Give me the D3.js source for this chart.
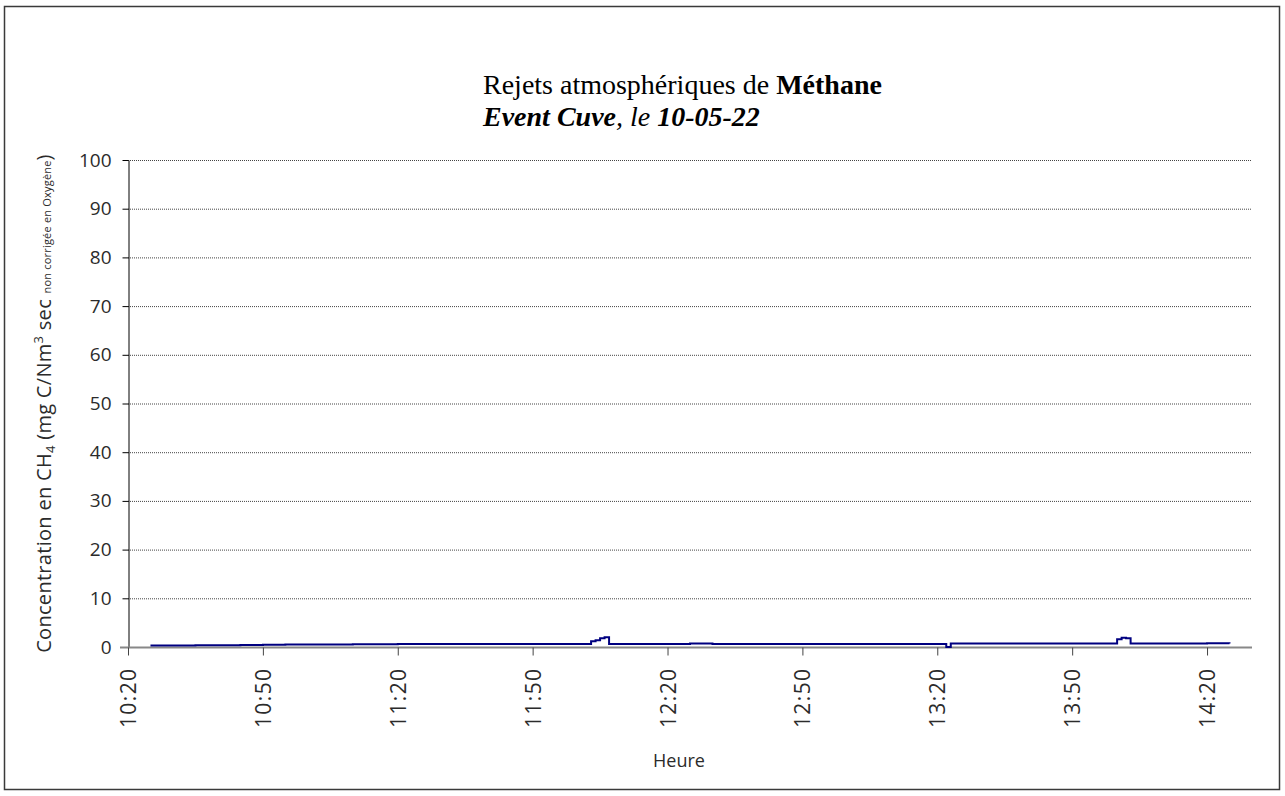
<!DOCTYPE html>
<html>
<head>
<meta charset="utf-8">
<script src="https://cdn.jsdelivr.net/npm/d3@7"></script>
<style>
  body { margin: 0; background: #fff; }
  svg { display: block; }
</style>
</head>
<body>
<svg id="canvas"></svg>
<script>
const width = 1285;
const height = 796;

// measured concentration (mg C/Nm3), step readings
const times = ["10:25","10:30","10:35","10:40","10:45","10:50","10:55","11:00","11:05","11:10",
  "11:15","11:20","11:25","11:30","11:35","11:40","11:45","11:50","11:55","12:00",
  "12:03","12:04","12:05","12:06","12:07","12:15","12:25","12:30","12:40","12:50",
  "13:00","13:10","13:20","13:22","13:23","13:30","13:40","13:50","13:55","14:00",
  "14:01","14:02","14:03","14:10","14:20","14:25"];
const values = [0.3,0.3,0.35,0.35,0.4,0.45,0.5,0.5,0.5,0.55,
  0.55,0.6,0.6,0.6,0.6,0.6,0.6,0.6,0.6,0.6,
  1.2,1.4,1.8,2.0,0.6,0.6,0.7,0.6,0.6,0.6,
  0.6,0.6,0.6,0.0,0.7,0.7,0.7,0.7,0.7,1.6,
  1.9,1.8,0.7,0.7,0.75,0.7];

const xTickLabels = ["10:20","10:50","11:20","11:50","12:20","12:50","13:20","13:50","14:20"];
const yTicks = [0,10,20,30,40,50,60,70,80,90,100];

const parse = d3.timeParse("%H:%M");
const data = times.map((t, i) => ({ t: parse(t), v: values[i] }));

const plot = { left: 128, right: 1252, top: 160, bottom: 647 };
const sans = "'Open Sans', sans-serif";
const ink = "#2b2b2b";

const svg = d3.select("#canvas").attr("width", width).attr("height", height);

// chart frame
svg.append("rect")
  .attr("x", 4.5).attr("y", 6.5)
  .attr("width", 1275).attr("height", 783)
  .attr("fill", "none").attr("stroke", "#3a3a3a").attr("stroke-width", 1.5);

const xScale = d3.scaleTime()
  .domain([parse("10:20"), parse("14:30")])
  .range([plot.left, plot.right]);

const yScale = d3.scaleLinear()
  .domain([0, 100])
  .range([plot.bottom, plot.top]);

// gridlines
svg.append("g")
  .selectAll("line")
  .data(yTicks.filter(d => d > 0))
  .enter()
  .append("line")
  .attr("x1", plot.left)
  .attr("x2", plot.right)
  .attr("y1", d => yScale(d) + 0.5)
  .attr("y2", d => yScale(d) + 0.5)
  .attr("stroke", "#444")
  .attr("stroke-width", 1)
  .attr("stroke-dasharray", "1,1");

// y axis
const yAxis = svg.append("g")
  .attr("transform", `translate(${plot.left + 0.5}, 0)`)
  .call(d3.axisLeft(yScale).tickValues(yTicks).tickSize(6).tickPadding(11).tickSizeOuter(0));
yAxis.select(".domain").attr("stroke", "#000");
yAxis.selectAll(".tick line").attr("stroke", "#000");
yAxis.selectAll("text")
  .style("font-family", sans)
  .style("font-size", "19px")
  .attr("fill", ink);

// x axis
const xAxis = svg.append("g")
  .attr("transform", `translate(0, ${plot.bottom + 0.5})`)
  .call(d3.axisBottom(xScale)
    .tickValues(xTickLabels.map(parse))
    .tickFormat(d3.timeFormat("%H:%M"))
    .tickSize(8)
    .tickSizeOuter(0));
xAxis.select(".domain")
  .attr("d", `M${plot.left - 8},0H${plot.right}`)
  .attr("stroke", "#888").attr("stroke-width", 2);
xAxis.selectAll(".tick line").attr("stroke", "#444");
xAxis.selectAll("text")
  .attr("transform", "rotate(-90)")
  .attr("x", -20).attr("y", 0).attr("dy", "0.36em")
  .style("text-anchor", "end")
  .style("font-family", sans)
  .style("font-size", "21px")
  .style("letter-spacing", "1.4px")
  .attr("fill", ink);

// series
const line = d3.line()
  .x(d => xScale(d.t))
  .y(d => yScale(d.v))
  .curve(d3.curveStepAfter);

svg.append("path")
  .datum(data)
  .attr("d", line)
  .attr("fill", "none")
  .attr("stroke", "#000080")
  .attr("stroke-width", 2);

// title
const serif = "'Liberation Serif', 'Times New Roman', serif";
const t1 = svg.append("text")
  .attr("x", 483).attr("y", 94)
  .style("font-family", serif)
  .style("font-size", "28px")
  .attr("fill", "#000");
t1.append("tspan").text("Rejets atmosphériques de ");
t1.append("tspan").attr("font-weight", "bold").text("Méthane");
const t2 = svg.append("text")
  .attr("x", 483).attr("y", 126)
  .style("font-family", serif)
  .style("font-size", "28px")
  .style("font-style", "italic");
t2.append("tspan").attr("font-weight", "bold").text("Event Cuve");
t2.append("tspan").text(", le ");
t2.append("tspan").attr("font-weight", "bold").text("10-05-22");

// y axis title
const yTitle = svg.append("text")
  .attr("transform", `translate(51, ${(plot.top + plot.bottom) / 2}) rotate(-90)`)
  .attr("text-anchor", "middle")
  .style("font-family", sans)
  .style("font-size", "20px")
  .style("letter-spacing", "0.3px")
  .attr("fill", ink);
yTitle.append("tspan").text("Concentration en CH");
yTitle.append("tspan").attr("font-size", "13px").attr("dy", 4).text("4");
yTitle.append("tspan").attr("dy", -4).text(" (mg C/Nm");
yTitle.append("tspan").attr("font-size", "13px").attr("dy", -8).text("3");
yTitle.append("tspan").attr("dy", 8).text(" sec ");
yTitle.append("tspan").attr("font-size", "11px").style("letter-spacing", "0.2px").text("non corrigée en Oxygène");
yTitle.append("tspan").text(")");

// x axis title
svg.append("text")
  .attr("x", 679).attr("y", 767)
  .attr("text-anchor", "middle")
  .style("font-family", sans)
  .style("font-size", "18px")
  .attr("fill", ink)
  .text("Heure");
</script>
</body>
</html>
